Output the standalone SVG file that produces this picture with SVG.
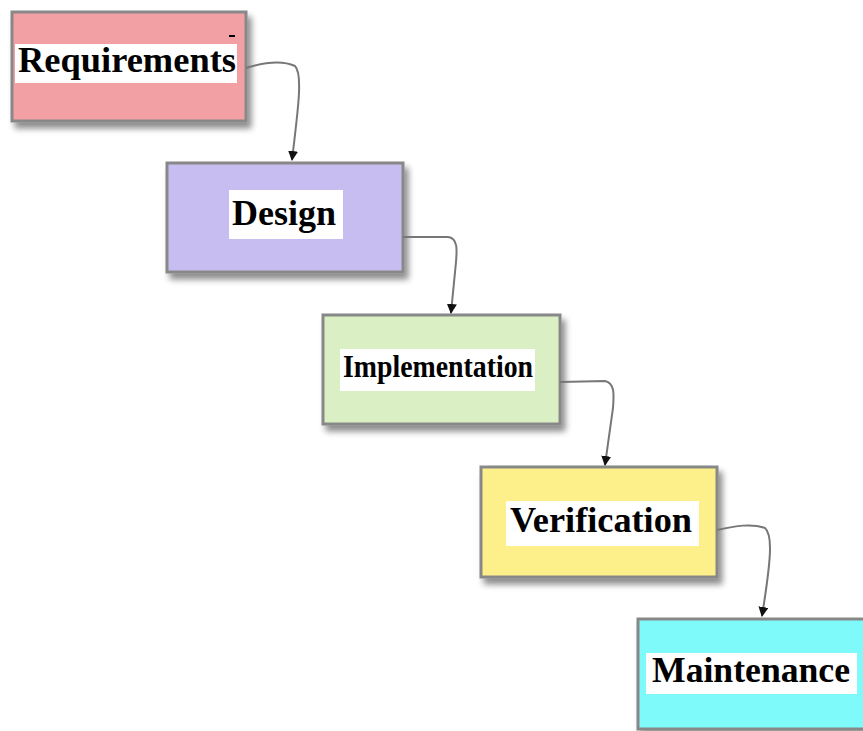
<svg xmlns="http://www.w3.org/2000/svg" width="863" height="731" viewBox="0 0 863 731">
<defs>
<filter id="sh" x="-10%" y="-10%" width="130%" height="140%">
<feGaussianBlur in="SourceAlpha" stdDeviation="3"/>
<feOffset dx="4" dy="6" result="b"/>
<feComponentTransfer><feFuncA type="linear" slope="0.45"/></feComponentTransfer>
<feMerge><feMergeNode/><feMergeNode in="SourceGraphic"/></feMerge>
</filter>
<marker id="ah" viewBox="0 0 10 10" refX="9" refY="5" markerWidth="10" markerHeight="10" markerUnits="userSpaceOnUse" orient="auto">
<path d="M0,0 L10,5 L0,10 z" fill="#111"/>
</marker>
</defs>
<style>
.box{stroke:#888;stroke-width:3;filter:url(#sh)}
.lbg{fill:#fff}
.lbl{font-family:"Liberation Serif","Times New Roman",serif;font-weight:bold;fill:#000}
.con{fill:none;stroke:#777;stroke-width:2}
</style>
<rect width="863" height="731" fill="#fff"/>
<g id="requirements">
<rect class="box" x="12" y="12" width="234" height="109" fill="#f2a0a4"/>
<rect class="lbg" x="15" y="44" width="222" height="39"/>
<text class="lbl" x="18" y="72" font-size="35" textLength="218" lengthAdjust="spacingAndGlyphs">Requirements</text>
<rect x="229" y="35" width="6" height="2" fill="#000"/>
</g>
<g id="design">
<rect class="box" x="167" y="163" width="236" height="109" fill="#c8bdf0"/>
<rect class="lbg" x="229" y="190" width="114" height="49"/>
<text class="lbl" x="232" y="225" font-size="36" textLength="104" lengthAdjust="spacingAndGlyphs">Design</text>
</g>
<g id="implementation">
<rect class="box" x="323" y="315" width="237" height="109" fill="#daf0c4"/>
<rect class="lbg" x="340" y="349" width="195" height="42"/>
<text class="lbl" x="343" y="377" font-size="32" textLength="190" lengthAdjust="spacingAndGlyphs">Implementation</text>
</g>
<g id="verification">
<rect class="box" x="481" y="467" width="236" height="110" fill="#fdf08a"/>
<rect class="lbg" x="506" y="501" width="193" height="45"/>
<text class="lbl" x="510" y="532" font-size="36" textLength="182" lengthAdjust="spacingAndGlyphs">Verification</text>
</g>
<g id="maintenance">
<rect class="box" x="638" y="619" width="240" height="110" fill="#7efafa"/>
<rect class="lbg" x="646" y="653" width="211" height="41"/>
<text class="lbl" x="652" y="682" font-size="36" textLength="198" lengthAdjust="spacingAndGlyphs">Maintenance</text>
</g>
<g id="connectors">
<path class="con" d="M246,68 C262,63 282,60 295,66 C303,74 298,110 292,160" marker-end="url(#ah)"/>
<path class="con" d="M403,237 L448,237 C458,238 457,250 456,262 L451,313" marker-end="url(#ah)"/>
<path class="con" d="M560,382 L605,381 C615,383 614,395 613,408 L605,465" marker-end="url(#ah)"/>
<path class="con" d="M717,530 C735,526 752,523 765,528 C773,535 771,560 762,616" marker-end="url(#ah)"/>
</g>
</svg>
